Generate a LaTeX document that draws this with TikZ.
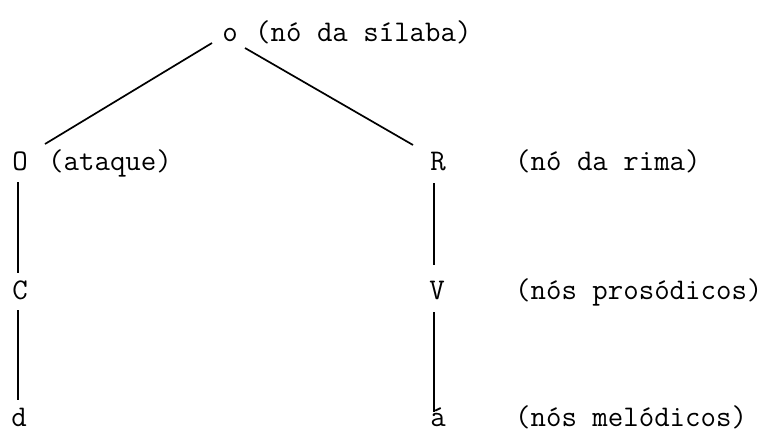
\documentclass[tikz,border=0pt]{standalone}
\begin{document}
\begin{tikzpicture}[x=1pt,y=1pt,
  lbl/.style={inner sep=0pt,anchor=base,font=\fontsize{30}{36}\selectfont\ttfamily},
  note/.style={inner sep=0pt,anchor=base west,font=\fontsize{30}{36}\selectfont\ttfamily},
  edge/.style={line width=1.7pt}]
\useasboundingbox (0,0) rectangle (771,-434);
% letters
\node[lbl] (o) at (230,-41) {o};
\node[lbl] (O) at (20,-170) {O};
\node[lbl] (R) at (438,-170) {R};
\node[lbl] (C) at (20,-299) {C};
\node[lbl] (V) at (437,-299) {V};
\node[lbl] (d) at (19,-426) {d};
\node[lbl] (a) at (438,-426) {á};
% notes
\node[note] (n1) at (255,-41) {(nó da sílaba)};
\node[note] (n2) at (48,-170) {(ataque)};
\node[note] (n3) at (515,-170) {(nó da rima)};
\node[note] (n4) at (515,-299) {(nós prosódicos)};
\node[note] (n5) at (515,-426) {(nós melódicos)};
% connectors
\draw[edge] ([shift={(-18,-2)}]o.base) -- ([shift={(25,26)}]O.base);
\draw[edge] ([shift={(15,-7)}]o.base) -- ([shift={(-25,25)}]R.base);
\draw[edge] ([shift={(-2,-12)}]O.base) -- ([shift={(-2,26)}]C.base);
\draw[edge] ([shift={(-2,-11)}]C.base) -- ([shift={(-1,26)}]d.base);
\draw[edge] ([shift={(-4,-13)}]R.base) -- ([shift={(-3,34)}]V.base);
\draw[edge] ([shift={(-3,-13)}]V.base) -- ([shift={(-4,14)}]a.base);
\end{tikzpicture}
\end{document}
